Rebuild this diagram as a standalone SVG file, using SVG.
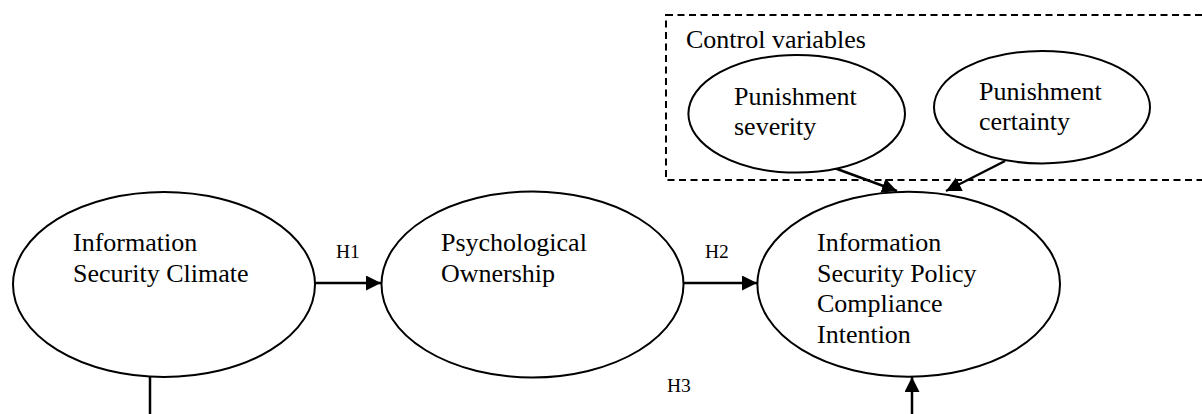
<svg xmlns="http://www.w3.org/2000/svg" width="1202" height="414" viewBox="0 0 1202 414">
<style>
  .node { fill: #ffffff; stroke: #000000; stroke-width: 2; }
  .lbl { font-family: "Liberation Serif", "Times New Roman", serif; font-size: 26px; fill: #000000; }
  .hl { font-family: "Liberation Serif", "Times New Roman", serif; font-size: 19.5px; fill: #000000; }
  .edge { fill: none; stroke: #000000; stroke-width: 2.5; }
  .box { fill: none; stroke: #000000; stroke-width: 2; stroke-dasharray: 7 4.5; }
</style>
<defs>
  <marker id="arrow" markerUnits="userSpaceOnUse" markerWidth="17" markerHeight="17" refX="15" refY="7.5" orient="auto">
    <path d="M0,0 L15,7.5 L0,15 Z" fill="#000000"/>
  </marker>
</defs>
<rect width="1202" height="414" fill="#ffffff"/>

<g id="control-box">
  <rect class="box" x="666" y="15" width="560" height="165"/>
  <text class="lbl" x="686" y="48">Control variables</text>
</g>

<g id="connectors">
  <line class="edge" x1="315" y1="283" x2="381" y2="283" marker-end="url(#arrow)"/>
  <line class="edge" x1="683" y1="283" x2="757" y2="283" marker-end="url(#arrow)"/>
  <line class="edge" x1="833" y1="167.5" x2="897" y2="191" marker-end="url(#arrow)"/>
  <line class="edge" x1="1005" y1="161" x2="946" y2="191" marker-end="url(#arrow)"/>
  <line class="edge" x1="150" y1="376" x2="150" y2="414"/>
  <line class="edge" x1="912" y1="414" x2="912" y2="377" marker-end="url(#arrow)"/>
  <text class="hl" x="336" y="258">H1</text>
  <text class="hl" x="705" y="258">H2</text>
  <text class="hl" x="667" y="392">H3</text>
</g>

<g id="node-isc">
  <ellipse class="node" cx="164" cy="284.5" rx="151" ry="92.5"/>
  <text class="lbl" x="73" y="251">Information</text>
  <text class="lbl" x="73" y="282">Security Climate</text>
</g>

<g id="node-po">
  <ellipse class="node" cx="532.5" cy="284.5" rx="151" ry="93"/>
  <text class="lbl" x="441" y="251">Psychological</text>
  <text class="lbl" x="441" y="282">Ownership</text>
</g>

<g id="node-ispci">
  <ellipse class="node" cx="908.7" cy="284.2" rx="151.3" ry="92.5"/>
  <text class="lbl" x="817" y="251">Information</text>
  <text class="lbl" x="817" y="281.5">Security Policy</text>
  <text class="lbl" x="817" y="312">Compliance</text>
  <text class="lbl" x="817" y="342.5">Intention</text>
</g>

<g id="node-severity">
  <ellipse class="node" cx="796.7" cy="113.8" rx="108.3" ry="58.8"/>
  <text class="lbl" x="734" y="105">Punishment</text>
  <text class="lbl" x="734" y="135">severity</text>
</g>

<g id="node-certainty">
  <ellipse class="node" cx="1042" cy="107.2" rx="108" ry="56.2"/>
  <text class="lbl" x="979" y="100">Punishment</text>
  <text class="lbl" x="979" y="130">certainty</text>
</g>
</svg>
